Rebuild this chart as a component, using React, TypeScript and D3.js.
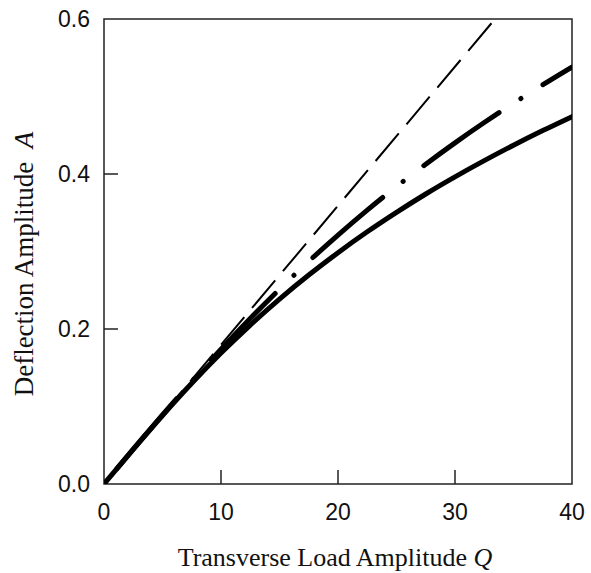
import React from "react";
import * as d3 from "d3";

// transverse load amplitude Q (x) sampled every 2.5
const loadQ = [0, 2.5, 5, 7.5, 10, 12.5, 15, 17.5, 20, 22.5, 25, 27.5, 30, 32.5, 35, 37.5, 40];
// solid curve: deflection amplitude A
const solidA = [0, 0.0448, 0.0884, 0.1299, 0.1689, 0.2051, 0.2386, 0.2696, 0.2985, 0.3254, 0.3505, 0.3742, 0.3963, 0.4172, 0.4371, 0.456, 0.474];
// dash-dot curve
const dashDotA = [0, 0.0449, 0.0892, 0.1323, 0.1738, 0.2136, 0.2514, 0.2873, 0.3212, 0.3534, 0.3838, 0.4127, 0.4402, 0.4664, 0.4913, 0.5151, 0.538];
// thin dashed straight line (linear response)
const linearQ = [0, 33.42];
const linearA = [0, 0.6];

const xTicks = [0, 10, 20, 30, 40];
const yTicks = [0, 0.2, 0.4, 0.6];

const W = 591;
const H = 573;
const left = 104;
const right = 572;
const top = 19;
const bottom = 484;

export default function App() {
  const x = d3.scaleLinear().domain([0, 40]).range([left, right]);
  const y = d3.scaleLinear().domain([0, 0.6]).range([bottom, top]);

  const line = d3
    .line<[number, number]>()
    .x((d) => x(d[0]))
    .y((d) => y(d[1]))
    .curve(d3.curveMonotoneX);

  const solidPath = line(loadQ.map((q, i) => [q, solidA[i]]) as [number, number][]) || "";
  const dashDotPath = line(loadQ.map((q, i) => [q, dashDotA[i]]) as [number, number][]) || "";
  const linearPath = line(linearQ.map((q, i) => [q, linearA[i]]) as [number, number][]) || "";

  const tickLen = 14;
  const tickFont = "'Liberation Sans', Arial, sans-serif";
  const titleFont = "'Liberation Serif', 'Times New Roman', serif";

  return (
    <svg
      width={W}
      height={H}
      style={{ position: "absolute", left: 0, top: 0, background: "#fff" }}
    >
      <defs>
        <clipPath id="plot">
          <rect x={left} y={top} width={right - left} height={bottom - top} />
        </clipPath>
      </defs>

      {/* frame */}
      <rect
        x={left}
        y={top}
        width={right - left}
        height={bottom - top}
        fill="none"
        stroke="#222"
        strokeWidth={1.5}
      />

      {/* x ticks (inward) and labels */}
      {xTicks.map((t) => (
        <g key={"x" + t}>
          {t > 0 && t < 40 && (
            <line x1={x(t)} x2={x(t)} y1={bottom} y2={bottom - tickLen} stroke="#222" strokeWidth={1.5} />
          )}
          <text x={x(t)} y={520} textAnchor="middle" fontFamily={tickFont} fontSize={23} fill="#111">
            {t}
          </text>
        </g>
      ))}

      {/* y ticks (inward) and labels */}
      {yTicks.map((t) => (
        <g key={"y" + t}>
          {t > 0 && t < 0.6 && (
            <line x1={left} x2={left + tickLen} y1={y(t)} y2={y(t)} stroke="#222" strokeWidth={1.5} />
          )}
          <text
            x={90}
            y={y(t)}
            dy="0.36em"
            textAnchor="end"
            fontFamily={tickFont}
            fontSize={23}
            fill="#111"
          >
            {t.toFixed(1)}
          </text>
        </g>
      ))}

      <g clipPath="url(#plot)" fill="none" stroke="#000">
        <path d={linearPath} strokeWidth={2} strokeDasharray="36,12" strokeDashoffset={10} />
        <path
          d={dashDotPath}
          strokeWidth={5}
          strokeLinecap="round"
          strokeDasharray="92,26,0.1,26"
          strokeDashoffset={124}
        />
        <path d={solidPath} strokeWidth={5} strokeLinecap="round" />
      </g>

      {/* axis titles */}
      <text
        x={(left + right) / 2 - 3}
        y={566}
        textAnchor="middle"
        fontFamily={titleFont}
        fontSize={26}
        fill="#111"
      >
        Transverse Load Amplitude <tspan fontStyle="italic">Q</tspan>
      </text>
      <text
        transform={`translate(33, 264) rotate(-90)`}
        textAnchor="middle"
        fontFamily={titleFont}
        fontSize={27}
        fill="#111"
      >
        Deflection Amplitude{"\u00a0 "}<tspan fontStyle="italic">A</tspan>
      </text>
    </svg>
  );
}
